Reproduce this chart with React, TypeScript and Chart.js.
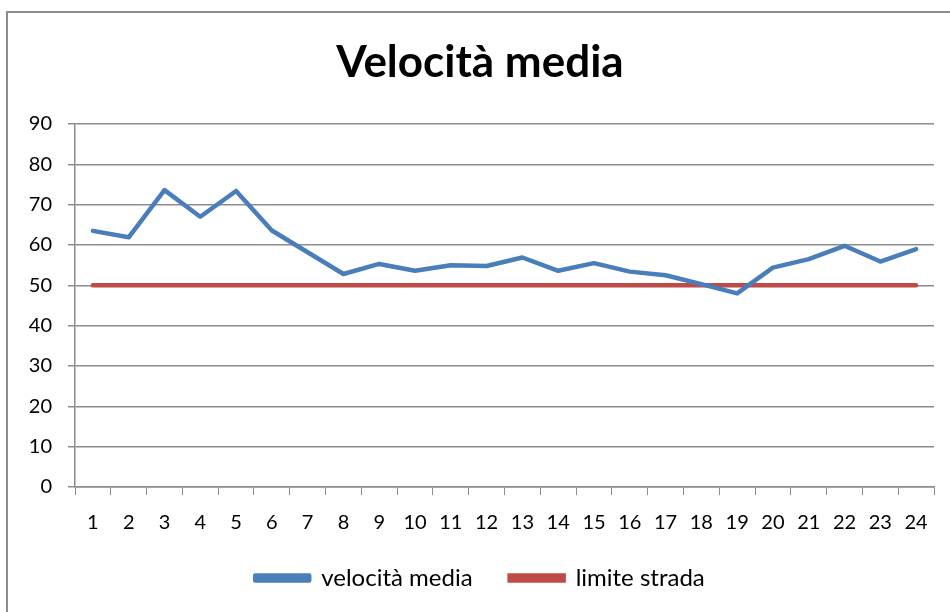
import React, { useEffect, useRef } from "react";
import { Chart, registerables } from "chart.js";

Chart.register(...registerables);

const categories = ["1", "2", "3", "4", "5", "6", "7", "8", "9", "10", "11", "12", "13", "14", "15", "16", "17", "18", "19", "20", "21", "22", "23", "24"];
const velocitaMedia = [63.5, 61.9, 73.6, 67.0, 73.4, 63.6, 58.2, 52.8, 55.3, 53.6, 55.0, 54.8, 56.9, 53.6, 55.5, 53.4, 52.5, 50.3, 48.0, 54.4, 56.5, 59.8, 55.9, 59.0];
const limiteStrada = [50, 50, 50, 50, 50, 50, 50, 50, 50, 50, 50, 50, 50, 50, 50, 50, 50, 50, 50, 50, 50, 50, 50, 50];
const yTicks = { min: 0, max: 90, step: 10 };
const titleText = "Velocità media";
const seriesNames = ["velocità media", "limite strada"];

const FONT = "Lato, 'Noto Sans', sans-serif";

export default function App() {
  const ref = useRef<HTMLCanvasElement | null>(null);

  useEffect(() => {
    document.body.style.margin = "0";
    const canvas = ref.current;
    if (!canvas) return;
    const chart = new Chart(canvas, {
      type: "line",
      data: {
        labels: categories,
        datasets: [
          {
            label: seriesNames[0],
            data: velocitaMedia,
            borderColor: "#4a7ebb",
            backgroundColor: "#4a7ebb",
            borderWidth: 4.5,
            pointRadius: 0,
            tension: 0,
            borderJoinStyle: "round",
            borderCapStyle: "round",
          },
          {
            label: seriesNames[1],
            data: limiteStrada,
            borderColor: "#be4b48",
            backgroundColor: "#be4b48",
            borderWidth: 4.5,
            pointRadius: 0,
            tension: 0,
            borderCapStyle: "round",
          },
        ],
      },
      options: {
        animation: false,
        responsive: false,
        maintainAspectRatio: false,
        devicePixelRatio: 1,
        layout: { padding: { left: 26, top: 12, right: 16, bottom: 12 } },
        plugins: {
          title: {
            display: true,
            text: titleText,
            color: "#000",
            font: { family: FONT, size: 44, weight: "bold", lineHeight: 1.2 },
            padding: { top: 24, bottom: 35.2 },
          },
          legend: {
            display: true,
            position: "bottom",
            labels: {
              color: "#000",
              font: { family: FONT, size: 24 },
              boxWidth: 54,
              boxHeight: 5,
              padding: 37,
            },
          },
          tooltip: { enabled: false },
        },
        scales: {
          x: {
            type: "category",
            offset: true,
            grid: {
              display: true,
              drawOnChartArea: false,
              drawTicks: true,
              tickLength: 8,
              offset: true,
              color: "#8c8c8c",
            },
            border: { display: true, color: "#8c8c8c", width: 1.5 },
            ticks: {
              color: "#000",
              font: { family: FONT, size: 20 },
              padding: 16,
              maxRotation: 0,
              autoSkip: false,
            },
            afterFit: (scale: any) => {
              scale.height = 42;
            },
          },
          y: {
            min: yTicks.min,
            max: yTicks.max,
            ticks: {
              stepSize: yTicks.step,
              color: "#000",
              font: { family: FONT, size: 20 },
              padding: 16,
            },
            grid: {
              color: "#8c8c8c",
              lineWidth: 1.5,
              tickLength: 7,
            },
            border: { display: true, color: "#8c8c8c", width: 1.5 },
            afterFit: (scale: any) => {
              scale.width = 49;
            },
          },
        },
      },
    });
    return () => chart.destroy();
  }, []);

  return (
    <div style={{ position: "relative", width: 950, height: 612, overflow: "hidden", background: "#fff" }}>
      <div
        style={{
          position: "absolute",
          left: 6,
          top: 11,
          width: 980,
          height: 640,
          borderTop: "2px solid #8c8c8c",
          borderLeft: "2px solid #8c8c8c",
          boxSizing: "border-box",
        }}
      />
      <canvas ref={ref} width={950} height={612} style={{ position: "absolute", left: 0, top: 0, width: 950, height: 612 }} />
    </div>
  );
}
